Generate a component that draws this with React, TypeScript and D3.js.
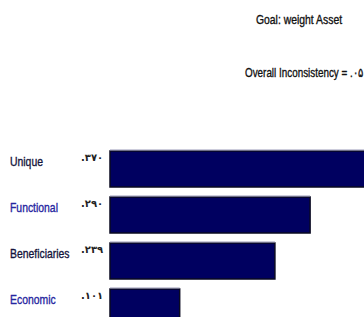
import React from "react";
import * as d3 from "d3";

const categories = ["Unique", "Functional", "Beneficiaries", "Economic"];
const values = [0.37, 0.29, 0.239, 0.101];
const valueLabels = [".۳۷۰", ".۲۹۰", ".۲۳۹", ".۱۰۱"];
const labelColors = ["#14143c", "#2626a0", "#14143c", "#2626a0"];
const title = "Goal: weight Asset";
const subtitle = "Overall Inconsistency = .۰۵";

const W = 364;
const H = 317;
const FONT = "'Liberation Sans', Arial, sans-serif";
const SX = 0.8;

function Narrow({ x, y, size, fill, anchor, sx, children }: any) {
  return (
    <g transform={`translate(${x},${y}) scale(${sx || SX},1)`}>
      <text
        x={0}
        y={0}
        textAnchor={anchor || "start"}
        fontFamily={FONT}
        fontSize={size}
        fill={fill}
        stroke={fill}
        strokeWidth={0.35}
      >
        {children}
      </text>
    </g>
  );
}

export default function App() {
  const x = d3.scaleLinear().domain([0, 0.4]).range([110, 386]);
  const y = d3
    .scaleBand<string>()
    .domain(categories)
    .range([151, 151 + 3 * 46 + 36])
    .paddingInner(10 / 46)
    .paddingOuter(0);

  return (
    <svg
      width={W}
      height={H}
      style={{ position: "fixed", left: 0, top: 0, background: "#fff" }}
    >
      <rect x={0} y={0} width={W} height={H} fill="#fff" />
      <Narrow x={299} y={24} size={13} fill="#111" anchor="middle">
        {title}
      </Narrow>
      <Narrow x={245} y={77} size={13} fill="#111" sx={0.76}>
        {subtitle}
      </Narrow>
      {categories.map((c, i) => {
        const by = y(c) as number;
        return (
          <g key={c}>
            <Narrow x={10} y={by + 15} size={13} fill={labelColors[i]}>
              {c}
            </Narrow>
            <text
              x={81}
              y={by + 10}
              fontFamily="'DejaVu Sans', sans-serif"
              fontSize={10}
              fontWeight="bold"
              fill="#222"
            >
              {valueLabels[i]}
            </text>
            <rect
              x={x(0)}
              y={by}
              width={x(values[i]) - x(0)}
              height={y.bandwidth()}
              fill="#000060"
              stroke="#0a0a20"
              strokeWidth={1.5}
            />
            <line
              x1={x(0)}
              x2={x(values[i])}
              y1={by - 1}
              y2={by - 1}
              stroke="#9a9ab8"
              strokeWidth={1}
            />
          </g>
        );
      })}
    </svg>
  );
}
